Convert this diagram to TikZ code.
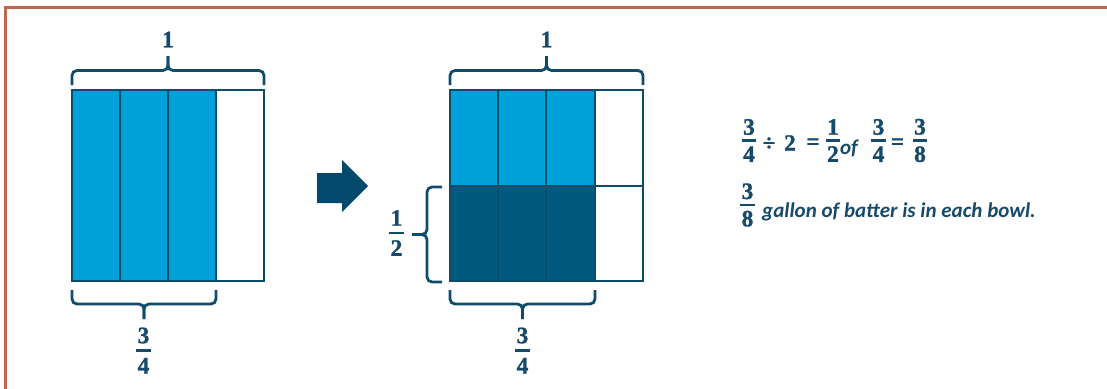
\documentclass[tikz,border=0pt]{standalone}
\usepackage{fontspec}
\setmainfont{Carlito}
\newfontfamily\numf{Liberation Serif Bold}[FakeBold=1.2]
\definecolor{lightblue}{HTML}{00A0DB}
\definecolor{darkcell}{HTML}{005A80}
\definecolor{edgec}{HTML}{0E4C6A}
\definecolor{txtc}{HTML}{174A6A}
\definecolor{arrowc}{HTML}{03496B}
\definecolor{framec}{HTML}{C2664F}
\newcommand\myfrac[3][6pt]{\vbox{\offinterlineskip\hbox{\kern1.2pt#2\kern1.2pt}\kern#1\hrule height 2.5pt\kern#1\hbox{\kern1.2pt#3\kern1.2pt}}}
\tikzset{
  cellline/.style={draw=edgec, line width=2pt},
  bracestyle/.style={draw=edgec, line width=2.8pt, rounded corners=5pt},
  lbl/.style={text=txtc, inner sep=0pt, font=\fontsize{23.5}{27}\selectfont\numf},
  sym/.style={text=txtc, inner sep=0pt, font=\fontsize{23}{27}\selectfont\numf},
  sentence/.style={text=txtc, inner sep=0pt, font=\fontsize{21}{25}\selectfont\bfseries\itshape},
}
\begin{document}
\begin{tikzpicture}[x=1pt,y=-1pt]
\useasboundingbox (0,0) rectangle (1107,388);
\begin{scope}
\clip (0,0) rectangle (1107,388);
\draw[framec, line width=3pt] (5.5,400) -- (5.5,7.5) -- (1120,7.5);
\end{scope}
% left grid
\fill[lightblue] (72,90) rectangle (216,281);
\draw[cellline] (72,90) rectangle (264,281);
\foreach \x in {120,168,216} \draw[cellline] (\x,90) -- (\x,281);
% right grid
\fill[lightblue] (450,90) rectangle (595,185.5);
\fill[darkcell] (450,185.5) rectangle (595,281);
\draw[cellline] (450,90) rectangle (643,281);
\foreach \x in {498,546,595} \draw[cellline] (\x,90) -- (\x,281);
\draw[cellline] (450,185.5) -- (643,185.5);
% braces
\draw[bracestyle] (72,85) -- (72,70.5) -- (168,70.5) -- (168,56);
\draw[bracestyle] (264,85) -- (264,70.5) -- (168,70.5) -- (168,56);
\draw[bracestyle] (450,85) -- (450,70.5) -- (546.5,70.5) -- (546.5,56);
\draw[bracestyle] (643,85) -- (643,70.5) -- (546.5,70.5) -- (546.5,56);
\draw[bracestyle] (72,290) -- (72,304) -- (144,304) -- (144,319);
\draw[bracestyle] (216,290) -- (216,304) -- (144,304) -- (144,319);
\draw[bracestyle] (450,290) -- (450,304) -- (522.5,304) -- (522.5,319);
\draw[bracestyle] (595,290) -- (595,304) -- (522.5,304) -- (522.5,319);
\draw[bracestyle] (442,187) -- (427,187) -- (427,234.5) -- (412,234.5);
\draw[bracestyle] (442,282) -- (427,282) -- (427,234.5) -- (412,234.5);
% arrow
\fill[arrowc] (317,173) -- (342,173) -- (342,160) -- (368,186) -- (342,212) -- (342,203) -- (317,203) -- cycle;
% labels
\node[lbl] (oneL) at (168,39.5) {1};
\node[lbl] (oneR) at (546.5,39.5) {1};
\node[lbl] (tqL) at (143.5,350.5) {\myfrac[6pt]{3}{4}};
\node[lbl] (tqR) at (522.5,350.5) {\myfrac[6pt]{3}{4}};
\node[lbl] (half) at (396.5,233) {\myfrac[6pt]{1}{2}};
% equation
\node[lbl] (fA) at (749,140.5) {\myfrac[4.5pt]{3}{4}};
\node[sym] (dv) at (769,144) {÷};
\node[sym, anchor=base] (two) at (790,150.5) {2};
\node[sym] (eqA) at (813,144) {=};
\node[lbl] (fB) at (833,140.5) {\myfrac[4.5pt]{1}{2}};
\node[sentence, anchor=base] (of) at (849,154) {of};
\node[lbl] (fC) at (878.5,140.5) {\myfrac[4.5pt]{3}{4}};
\node[sym] (eqB) at (897.5,144) {=};
\node[lbl] (fD) at (920,140.5) {\myfrac[4.5pt]{3}{8}};
% sentence
\node[lbl] (fE) at (747.5,205) {\myfrac[4.5pt]{3}{8}};
\node[sentence, anchor=base west] (sent) at (762,217) {gallon of batter is in each bowl.};
\end{tikzpicture}
\end{document}
